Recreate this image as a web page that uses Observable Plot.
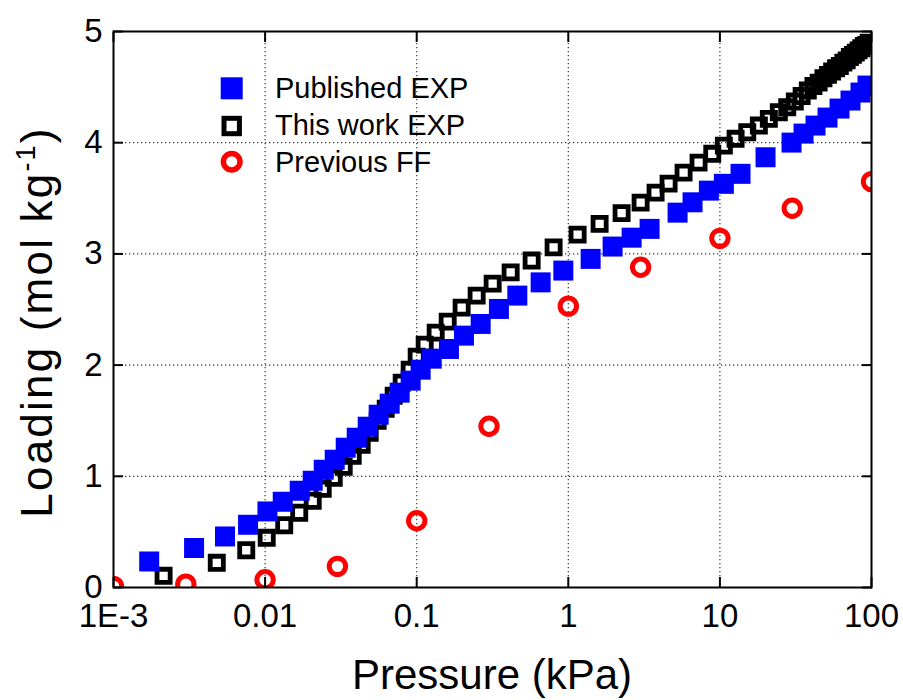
<!DOCTYPE html>
<html>
<head>
<meta charset="utf-8">
<script src="https://cdn.jsdelivr.net/npm/d3@7"></script>
<script src="https://cdn.jsdelivr.net/npm/@observablehq/plot@0.6"></script>
<style>
  body { margin: 0; background: #fff; }
  #chart { width: 903px; height: 700px; }
</style>
</head>
<body>
<div id="chart"></div>
<script>
// ---- axis ticks ----
const xTicks = [0.001, 0.01, 0.1, 1, 10, 100];
const xTickLabels = ["1E-3", "0.01", "0.1", "1", "10", "100"];
const yTicks = [0, 1, 2, 3, 4, 5];
const yTickLabels = ["0", "1", "2", "3", "4", "5"];
const seriesNames = ["Published EXP", "This work EXP", "Previous FF"];
const xTitle = "Pressure (kPa)";
const yTitleMain = "Loading (mol kg";
const yTitleSup = "-1";

// ---- Published EXP (blue filled squares) ----
const publishedP = [0.00172, 0.0034, 0.00544, 0.00772, 0.01036, 0.01307, 0.01692, 0.02061, 0.02436, 0.02878,
  0.03402, 0.04021, 0.04751, 0.05614, 0.06634, 0.0772, 0.09127, 0.1062, 0.1256, 0.1632,
  0.205, 0.2642, 0.3486, 0.4612, 0.6569, 0.9273, 1.404, 1.96, 2.616, 3.438,
  5.258, 6.601, 8.458, 10.62, 13.68, 20.0, 29.69, 35.61, 42.73, 51.27,
  61.52, 72.68, 84.62, 94.1];
const publishedL = [0.234, 0.355, 0.459, 0.564, 0.684, 0.771, 0.870, 0.960, 1.059, 1.149,
  1.257, 1.347, 1.446, 1.554, 1.653, 1.752, 1.860, 1.959, 2.058, 2.145,
  2.265, 2.370, 2.505, 2.625, 2.744, 2.850, 2.955, 3.066, 3.146, 3.225,
  3.371, 3.464, 3.569, 3.630, 3.720, 3.869, 4.001, 4.082, 4.154, 4.226,
  4.307, 4.379, 4.451, 4.514];

// ---- This work EXP (black open squares) ----
const thisWorkP = [0.00214, 0.0048, 0.00751, 0.01025, 0.01337, 0.01679, 0.02061, 0.02399, 0.02836, 0.033,
  0.03784, 0.04337, 0.04898, 0.05529, 0.06245, 0.0705, 0.07962, 0.08989, 0.1, 0.1129,
  0.1334, 0.1601, 0.1979, 0.2486, 0.317, 0.4166, 0.5731, 0.8, 1.152, 1.609,
  2.247, 2.999, 3.765, 4.586, 5.76, 7.233, 8.905, 10.62, 12.69, 15.15,
  18.07, 21.03, 24.48, 27.81, 31.2, 34.6, 38.0, 41.4, 44.8, 48.2,
  51.6, 55.0, 58.4, 61.8, 65.2, 68.6, 72.0, 75.4, 78.8, 82.2,
  85.6, 89.0, 92.4, 95.8];
const thisWorkL = [0.105, 0.222, 0.335, 0.447, 0.560, 0.672, 0.780, 0.888, 0.987, 1.086,
  1.185, 1.284, 1.392, 1.500, 1.608, 1.725, 1.842, 1.959, 2.076, 2.184,
  2.292, 2.391, 2.517, 2.625, 2.733, 2.834, 2.940, 3.059, 3.173, 3.270,
  3.367, 3.461, 3.551, 3.632, 3.731, 3.821, 3.900, 3.974, 4.035, 4.094,
  4.154, 4.214, 4.274, 4.319, 4.37, 4.42, 4.47, 4.51, 4.54, 4.58,
  4.61, 4.64, 4.67, 4.69, 4.72, 4.74, 4.77, 4.79, 4.81, 4.83,
  4.85, 4.87, 4.88, 4.90];

// ---- Previous FF (red open circles) ----
const previousP = [0.001, 0.003, 0.01, 0.03, 0.1, 0.3, 1, 3, 10, 30, 100];
const previousL = [0.01, 0.03, 0.07, 0.19, 0.60, 1.45, 2.53, 2.88, 3.14, 3.41, 3.65];

const rows = (P, L) => P.map((p, i) => ({p, l: L[i]}));
const published = rows(publishedP, publishedL);
const thisWork = rows(thisWorkP, thisWorkL);
const previous = rows(previousP, previousL);

const W = 903, H = 700, mL = 113, mR = 32, mT = 31, mB = 113;
const fontFamily = '"Liberation Sans", Arial, Helvetica, sans-serif';
const xFmt = new Map(xTicks.map((t, i) => [t, xTickLabels[i]]));
const yFmt = new Map(yTicks.map((t, i) => [t, yTickLabels[i]]));
const gridStyle = {stroke: "#222", strokeOpacity: 0.9, strokeDasharray: "1.3,2.7", strokeWidth: 1.2};

const chart = Plot.plot({
  width: W, height: H,
  marginLeft: mL, marginRight: mR, marginTop: mT, marginBottom: mB,
  style: {fontFamily, background: "white", color: "black"},
  x: {type: "log", domain: [0.001, 100], label: null},
  y: {domain: [0, 5], label: null},
  marks: [
    Plot.gridX(xTicks.slice(1, -1), gridStyle),
    Plot.gridY(yTicks.slice(1, -1), gridStyle),
    Plot.dot(thisWork, {x: "p", y: "l", symbol: "square", r: 7.4, fill: "none", stroke: "black", strokeWidth: 4.8, clip: true}),
    Plot.dot(published, {x: "p", y: "l", symbol: "square", r: 11.28, fill: "#0000ff", stroke: "none", clip: true}),
    Plot.dot(previous, {x: "p", y: "l", symbol: "circle", r: 8.2, fill: "none", stroke: "#ff0000", strokeWidth: 5, clip: true}),
    Plot.frame({stroke: "black", strokeWidth: 2}),
    // inward tick marks on all four sides
    Plot.axisX(xTicks, {anchor: "bottom", tickSize: 10, dy: -10, strokeWidth: 2, fill: "none", label: null}),
    Plot.axisX(xTicks, {anchor: "top", tickSize: 10, dy: 10, strokeWidth: 2, fill: "none", label: null}),
    Plot.axisY(yTicks, {anchor: "left", tickSize: 10, dx: 10, strokeWidth: 2, fill: "none", label: null}),
    Plot.axisY(yTicks, {anchor: "right", tickSize: 10, dx: -10, strokeWidth: 2, fill: "none", label: null}),
    // tick labels
    Plot.axisX(xTicks, {anchor: "bottom", tickSize: 0, tickPadding: 16, tickFormat: d => xFmt.get(d), fontSize: 33, fill: "black", label: null}),
    Plot.axisY(yTicks, {anchor: "left", tickSize: 0, tickPadding: 11, tickFormat: d => yFmt.get(d), fontSize: 33, fill: "black", label: null})
  ]
});

document.getElementById("chart").appendChild(chart);

const svg = d3.select(chart);
// axis titles
svg.append("text")
  .attr("x", 492).attr("y", 689)
  .attr("text-anchor", "middle").attr("font-size", 42).attr("fill", "black")
  .attr("font-family", fontFamily)
  .text(xTitle);
const yt = svg.append("text")
  .attr("transform", "translate(52,322) rotate(-90)")
  .attr("text-anchor", "middle").attr("font-size", 44).attr("fill", "black")
  .attr("letter-spacing", 2.2)
  .attr("font-family", fontFamily);
yt.append("tspan").text(yTitleMain);
yt.append("tspan").attr("dy", -17).attr("font-size", 27).text(yTitleSup);
yt.append("tspan").attr("dy", 17).text(")");

// legend (inside the plot, top-left)
const lg = svg.append("g").attr("font-family", fontFamily).attr("font-size", 29)
  .attr("fill", "black").attr("text-anchor", "start");
const lx = 231.7, ly = [88.3, 126, 161.7], tb = [98.3, 135, 171.7];
lg.append("rect").attr("x", lx - 11).attr("y", ly[0] - 11).attr("width", 22).attr("height", 22).attr("fill", "#0000ff");
lg.append("rect").attr("x", lx - 7.7).attr("y", ly[1] - 7.7).attr("width", 15.4).attr("height", 15.4)
  .attr("fill", "white").attr("stroke", "black").attr("stroke-width", 5);
lg.append("circle").attr("cx", lx).attr("cy", ly[2]).attr("r", 8.3)
  .attr("fill", "white").attr("stroke", "#ff0000").attr("stroke-width", 5.5);
seriesNames.forEach((name, i) => {
  lg.append("text").attr("x", 275).attr("y", tb[i]).attr("text-anchor", "start").text(name);
});
</script>
</body>
</html>
